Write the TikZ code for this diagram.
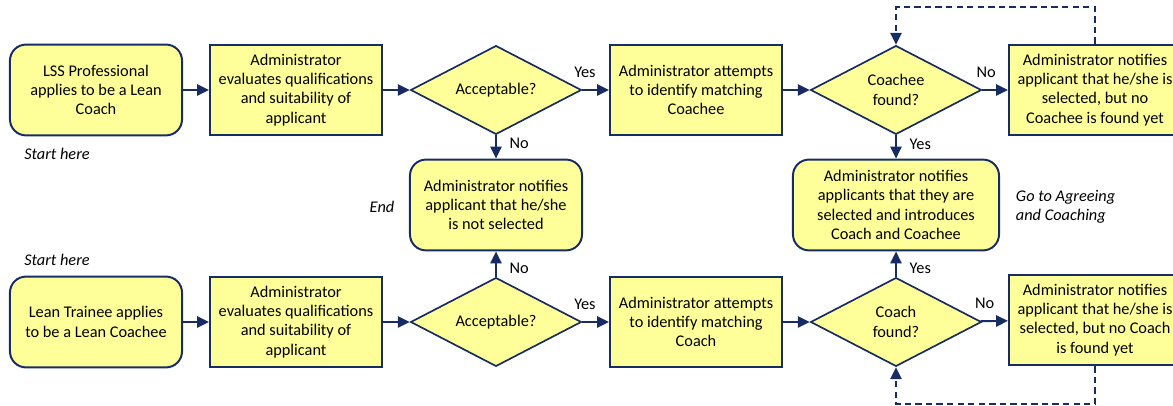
\documentclass[tikz,border=0pt]{standalone}
\usepackage{fontspec}
\setmainfont{Carlito}
\usetikzlibrary{arrows.meta, shapes, positioning}
\definecolor{navy}{RGB}{24,44,100}
\definecolor{paleyellow}{RGB}{255,255,153}
\newcommand{\chartfont}{\fontsize{11.6}{13.7}\selectfont}
\tikzstyle{process} = [rectangle, draw=navy, line width=1.4pt, fill=paleyellow, minimum width=4.3cm, minimum height=2.27cm, align=center, inner sep=2pt]
\tikzstyle{terminal} = [process, rounded corners=0.4cm]
\tikzstyle{decision} = [diamond, draw=navy, line width=1.2pt, fill=paleyellow, minimum width=4.27cm, minimum height=2.22cm, aspect=1.9, inner sep=0pt, align=center]
\tikzstyle{note} = [font=\chartfont\itshape]
\tikzstyle{lbl} = [inner sep=1pt, text=black]
\tikzstyle{flowline} = [navy, line width=1.4pt, -{Triangle[length=8.5pt, width=8pt]}]
\tikzstyle{dashline} = [flowline, dash pattern=on 4.5pt off 3pt]

\begin{document}
\begin{tikzpicture}[x=0.025cm, y=-0.025cm, font=\chartfont]
	\useasboundingbox (0, 0) rectangle (1173, 406);

	\node (Coach1) [terminal] at (96, 90) {LSS Professional\\applies to be a Lean\\Coach};
	\node (Eval1) [process] at (296, 90) {Administrator\\evaluates qualifications\\and suitability of\\applicant};
	\node (Acc1) [decision] at (496, 90) {Acceptable?};
	\node (Match1) [process] at (696, 90) {Administrator attempts\\to identify matching\\Coachee};
	\node (CoacheeQ) [decision] at (896, 90) {Coachee\\found?};
	\node (NotFound1) [process] at (1095, 90) {Administrator notifies\\applicant that he/she is\\selected, but no\\Coachee is found yet};

	\node (NotSel) [terminal] at (496, 205) {Administrator notifies\\applicant that he/she\\is not selected};
	\node (Selected) [terminal, minimum width=5.15cm] at (896, 205) {Administrator notifies\\applicants that they are\\selected and introduces\\Coach and Coachee};

	\node (Coachee2) [terminal] at (96, 322) {Lean Trainee applies\\to be a Lean Coachee};
	\node (Eval2) [process] at (296, 322) {Administrator\\evaluates qualifications\\and suitability of\\applicant};
	\node (Acc2) [decision] at (496, 322) {Acceptable?};
	\node (Match2) [process] at (696, 322) {Administrator attempts\\to identify matching\\Coach};
	\node (CoachQ) [decision] at (896, 322) {Coach\\found?};
	\node (NotFound2) [process] at (1095, 320) {Administrator notifies\\applicant that he/she is\\selected, but no Coach\\is found yet};

	\node (StartTop) [note] at (57, 154) {Start here};
	\node (StartBot) [note] at (57, 260) {Start here};
	\node (EndNote) [note] at (382, 207) {End};
	\node (GoNote) [note, anchor=west, align=left] at (1011, 207) {Go to Agreeing\\and Coaching};

	\draw [flowline] (Coach1) -- (Eval1);
	\draw [flowline] (Eval1) -- (Acc1);
	\draw [flowline] (Acc1) -- node [lbl, above=7pt, pos=0.1] {Yes} (Match1);
	\draw [flowline] (Match1) -- (CoacheeQ);
	\draw [flowline] (CoacheeQ) -- node [lbl, above=7pt, pos=0.15] {No} (NotFound1);
	\draw [flowline] (Acc1) -- node [lbl, right=8pt, pos=0.35] {No} (NotSel);
	\draw [flowline] (CoacheeQ) -- node [lbl, right=8pt, pos=0.38] {Yes} (Selected);

	\draw [flowline] (Coachee2) -- (Eval2);
	\draw [flowline] (Eval2) -- (Acc2);
	\draw [flowline] (Acc2) -- node [lbl, above=7pt, pos=0.1] {Yes} (Match2);
	\draw [flowline] (Match2) -- (CoachQ);
	\draw [flowline] (CoachQ) -- node [lbl, above=7pt, pos=0.15] {No} (NotFound2);
	\draw [flowline] (Acc2) -- node [lbl, right=8pt, pos=0.33] {No} (NotSel);
	\draw [flowline] (CoachQ) -- node [lbl, right=8pt, pos=0.33] {Yes} (Selected);

	\coordinate (TopTurn) at (1095, 7);
	\coordinate (BotTurn) at (1095, 404);
	\draw [dashline] (NotFound1.north) -- (TopTurn) -| (CoacheeQ.north);
	\draw [dashline] (NotFound2.south) -- (BotTurn) -| (CoachQ.south);

\end{tikzpicture}
\end{document}
